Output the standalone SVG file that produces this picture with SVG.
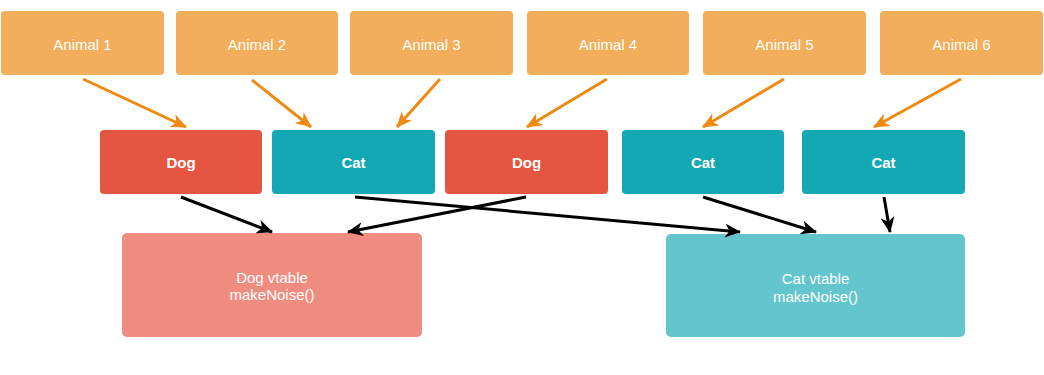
<svg xmlns="http://www.w3.org/2000/svg" width="1044" height="375" viewBox="0 0 1044 375">
<style>
.animal{fill:#F2AE5A}
.dog{fill:#E55642}
.cat{fill:#14A8B4}
.dogv{fill:#F08C80}
.catv{fill:#63C6CD}
text{font-family:"Liberation Sans",Arial,sans-serif;font-size:15px;fill:#ffffff;text-anchor:middle}
.b{font-weight:bold}
.oa{stroke:#EE8A12;stroke-width:3;fill:none;marker-end:url(#ao)}
.ba{stroke:#000000;stroke-width:3;fill:none;marker-end:url(#ab)}
</style>
<defs>
<marker id="ao" viewBox="0 0 16 14" refX="15" refY="7" markerWidth="16" markerHeight="14" markerUnits="userSpaceOnUse" orient="auto">
<path d="M0,0 L16,7 L0,14 L4.5,7 z" fill="#EE8A12"/>
</marker>
<marker id="ab" viewBox="0 0 16 14" refX="15" refY="7" markerWidth="16" markerHeight="14" markerUnits="userSpaceOnUse" orient="auto">
<path d="M0,0 L16,7 L0,14 L4.5,7 z" fill="#000000"/>
</marker>
</defs>
<rect width="1044" height="375" fill="#ffffff"/>
<g id="animal1"><rect class="animal" x="1" y="11" width="163" height="64" rx="4"/><text x="82.5" y="50">Animal 1</text></g>
<g id="animal2"><rect class="animal" x="176" y="11" width="162" height="64" rx="4"/><text x="257" y="50">Animal 2</text></g>
<g id="animal3"><rect class="animal" x="350" y="11" width="163" height="64" rx="4"/><text x="431.5" y="50">Animal 3</text></g>
<g id="animal4"><rect class="animal" x="527" y="11" width="162" height="64" rx="4"/><text x="608" y="50">Animal 4</text></g>
<g id="animal5"><rect class="animal" x="703" y="11" width="163" height="64" rx="4"/><text x="784.5" y="50">Animal 5</text></g>
<g id="animal6"><rect class="animal" x="880" y="11" width="163" height="64" rx="4"/><text x="961.5" y="50">Animal 6</text></g>
<g id="dog1"><rect class="dog" x="100" y="130" width="162" height="64" rx="4"/><text class="b" x="181" y="168">Dog</text></g>
<g id="cat2"><rect class="cat" x="272" y="130" width="163" height="64" rx="4"/><text class="b" x="353.5" y="168">Cat</text></g>
<g id="dog3"><rect class="dog" x="445" y="130" width="163" height="64" rx="4"/><text class="b" x="526.5" y="168">Dog</text></g>
<g id="cat4"><rect class="cat" x="622" y="130" width="162" height="64" rx="4"/><text class="b" x="703" y="168">Cat</text></g>
<g id="cat5"><rect class="cat" x="802" y="130" width="163" height="64" rx="4"/><text class="b" x="883.5" y="168">Cat</text></g>
<g id="dogvtable"><rect class="dogv" x="122" y="233" width="300" height="104" rx="5"/><text x="272" y="283">Dog vtable</text><text x="272" y="300">makeNoise()</text></g>
<g id="catvtable"><rect class="catv" x="666" y="234" width="299" height="103" rx="5"/><text x="815.5" y="284">Cat vtable</text><text x="815.5" y="302">makeNoise()</text></g>
<g id="connectors">
<line class="oa" x1="83" y1="79" x2="186" y2="127"/>
<line class="oa" x1="252" y1="80" x2="311" y2="127"/>
<line class="oa" x1="440" y1="79" x2="397" y2="127"/>
<line class="oa" x1="607" y1="79" x2="527" y2="127"/>
<line class="oa" x1="784" y1="79" x2="703" y2="127"/>
<line class="oa" x1="961" y1="79" x2="874" y2="127"/>
<line class="ba" x1="181" y1="197" x2="272" y2="232"/>
<line class="ba" x1="526" y1="197" x2="348" y2="232"/>
<line class="ba" x1="355" y1="197" x2="740" y2="232"/>
<line class="ba" x1="703" y1="197" x2="816" y2="232"/>
<line class="ba" x1="884" y1="197" x2="890" y2="232"/>
</g>
</svg>
